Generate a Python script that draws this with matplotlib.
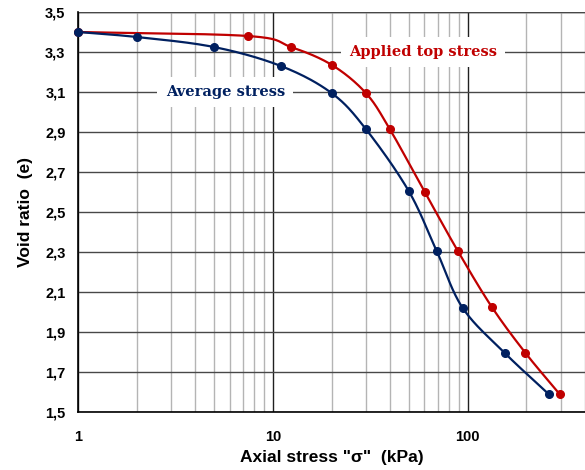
import numpy as np
import matplotlib
matplotlib.use("Agg")
import matplotlib.pyplot as plt
from matplotlib.ticker import FixedLocator, NullFormatter

# Oedometer test: void ratio vs axial stress
applied_stress = [1, 7.45, 12.4, 20.1, 30, 39.8, 60.2, 89, 133, 198, 296]
applied_e = [3.40, 3.38, 3.325, 3.235, 3.095, 2.915, 2.60, 2.305, 2.025, 1.795, 1.59]

average_stress = [1, 2.0, 4.98, 11.0, 20.0, 30.0, 49.8, 69.3, 94.3, 155, 260]
average_e = [3.40, 3.375, 3.325, 3.23, 3.095, 2.915, 2.605, 2.305, 2.02, 1.795, 1.59]

y_ticks = [1.5, 1.7, 1.9, 2.1, 2.3, 2.5, 2.7, 2.9, 3.1, 3.3, 3.5]
x_ticks = [1, 10, 100]

RED = "#C00000"
NAVY = "#002060"


def smooth(xs, ys, n=30):
    """Catmull-Rom curve through the points, built in log-x / e display units."""
    u = np.log10(np.asarray(xs, float)) * 195.0
    v = np.asarray(ys, float) * 200.0
    P = np.column_stack([u, v])
    P = np.vstack([2 * P[0] - P[1], P, 2 * P[-1] - P[-2]])
    out = []
    for i in range(1, len(P) - 2):
        p0, p1, p2, p3 = P[i - 1], P[i], P[i + 1], P[i + 2]
        t = np.linspace(0, 1, n)[:, None]
        c = 0.5 * ((2 * p1) + (-p0 + p2) * t + (2 * p0 - 5 * p1 + 4 * p2 - p3) * t ** 2
                   + (-p0 + 3 * p1 - 3 * p2 + p3) * t ** 3)
        out.append(c if i == len(P) - 3 else c[:-1])
    C = np.vstack(out)
    return 10 ** (C[:, 0] / 195.0), C[:, 1] / 200.0


fig = plt.figure(figsize=(5.85, 4.70), dpi=100)
ax = fig.add_axes([78 / 585, 58 / 470, 507 / 585, 400 / 470])
ax.set_xscale("log")
ax.set_xlim(1, 400)
ax.set_ylim(1.5, 3.5)

# grid
ax.xaxis.set_major_locator(FixedLocator(x_ticks))
minor = [m * d for d in (1, 10, 100) for m in range(2, 10) if m * d <= 400]
ax.xaxis.set_minor_locator(FixedLocator(minor))
ax.xaxis.set_minor_formatter(NullFormatter())
ax.set_xticklabels([str(t) for t in x_ticks])
ax.set_yticks(y_ticks)
ax.set_yticklabels([f"{t:.1f}".replace(".", ",") for t in y_ticks])
ax.grid(which="minor", axis="x", color="#b4b4b4", lw=1.0)
ax.grid(which="major", axis="x", color="#202020", lw=1.0)
ax.grid(which="major", axis="y", color="#484848", lw=1.0)
ax.set_axisbelow(True)

for s in ("top", "right"):
    ax.spines[s].set_visible(False)
ax.axhline(3.5, color="#202020", lw=1.0, zorder=0.5)
for s in ("left", "bottom"):
    ax.spines[s].set_color("black")
    ax.spines[s].set_linewidth(1.2)

ax.tick_params(which="both", length=0)
for lab in ax.get_xticklabels() + ax.get_yticklabels():
    lab.set_fontfamily("Liberation Sans")
    lab.set_fontweight("bold")
    lab.set_fontsize(10.5)
ax.tick_params(axis="x", pad=13)
ax.tick_params(axis="y", pad=9)

sx, sy = smooth(applied_stress, applied_e)
ax.plot(sx, sy, color=RED, lw=1.6, zorder=3, clip_on=False)
ax.plot(applied_stress, applied_e, "o", color=RED, ms=5.5, zorder=4, clip_on=False)

sx, sy = smooth(average_stress, average_e)
ax.plot(sx, sy, color=NAVY, lw=1.6, zorder=3, clip_on=False)
ax.plot(average_stress, average_e, "o", color=NAVY, ms=5.5, zorder=4, clip_on=False)

ax.text(59, 3.3, "Applied top stress", color=RED, fontsize=10.5, fontweight="bold",
        fontfamily="DejaVu Serif", ha="center", va="center", zorder=5,
        bbox=dict(facecolor="white", edgecolor="none", pad=6))
ax.text(5.7, 3.1, "Average stress", color=NAVY, fontsize=10.5, fontweight="bold",
        fontfamily="DejaVu Serif", ha="center", va="center", zorder=5,
        bbox=dict(facecolor="white", edgecolor="none", pad=6))

ax.set_xlabel('Axial stress "σ"  (kPa)', fontfamily="Liberation Sans", fontweight="bold",
              fontsize=12.5, labelpad=4)
ax.set_ylabel("Void ratio  (e)", fontfamily="Liberation Sans", fontweight="bold",
              fontsize=12.5, labelpad=9)

fig.savefig("out.png", dpi=100)
